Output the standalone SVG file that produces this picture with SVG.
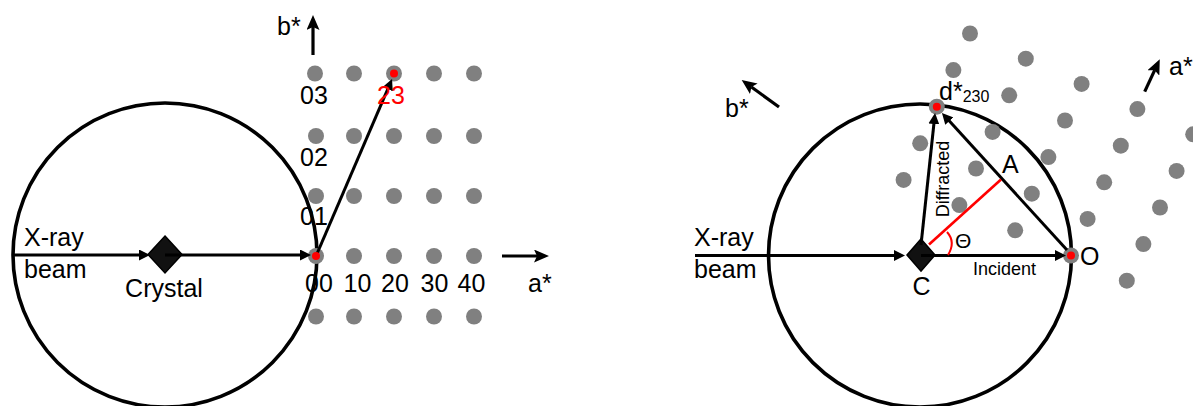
<svg xmlns="http://www.w3.org/2000/svg" width="1193" height="406" viewBox="0 0 1193 406">
<style>
text{font-family:"Liberation Sans",Arial,sans-serif;fill:#000}
.t{font-size:25px}
.s{font-size:18px}
.ring{fill:none;stroke:#000;stroke-width:3.6}
.ar{stroke:#000;stroke-width:3;fill:none;marker-end:url(#ah)}
.ax{stroke:#000;stroke-width:3.2;fill:none;marker-end:url(#bh)}
.dot{fill:#808080}
.rd{fill:#ff0000}
.xt{fill:#111;stroke:#000;stroke-width:1.5}
</style>
<defs>
<marker id="ah" viewBox="0 0 11 11" refX="2" refY="5.5" markerWidth="11" markerHeight="11" markerUnits="userSpaceOnUse" orient="auto"><path d="M0,0 L11,5.5 L0,11 z" fill="#000"/></marker>
<marker id="bh" viewBox="0 0 15 13" refX="3" refY="6.5" markerWidth="15" markerHeight="13" markerUnits="userSpaceOnUse" orient="auto"><path d="M0,0 L15,6.5 L0,13 L3,6.5 z" fill="#000"/></marker>
</defs>
<rect width="1193" height="406" fill="#fff"/>

<!-- LEFT PANEL -->
<g id="left-ewald-circle"><circle class="ring" cx="165" cy="255" r="152"/></g>
<g id="left-lattice">
<circle class="dot" cx="315" cy="73.5" r="8"/><circle class="dot" cx="354" cy="73.5" r="8"/><circle class="dot" cx="394" cy="73.5" r="8"/><circle class="dot" cx="434" cy="73.5" r="8"/><circle class="dot" cx="474" cy="73.5" r="8"/>
<circle class="dot" cx="316" cy="136" r="8"/><circle class="dot" cx="354" cy="136" r="8"/><circle class="dot" cx="394" cy="136" r="8"/><circle class="dot" cx="434" cy="136" r="8"/><circle class="dot" cx="474" cy="136" r="8"/>
<circle class="dot" cx="316" cy="196" r="8"/><circle class="dot" cx="354" cy="196" r="8"/><circle class="dot" cx="394" cy="196" r="8"/><circle class="dot" cx="434" cy="196" r="8"/><circle class="dot" cx="474" cy="196" r="8"/>
<circle class="dot" cx="316" cy="256" r="8"/><circle class="dot" cx="354" cy="256" r="8"/><circle class="dot" cx="394" cy="256" r="8"/><circle class="dot" cx="434" cy="256" r="8"/><circle class="dot" cx="474" cy="256" r="8"/>
<circle class="dot" cx="316" cy="316.5" r="8"/><circle class="dot" cx="354" cy="316.5" r="8"/><circle class="dot" cx="394" cy="316.5" r="8"/><circle class="dot" cx="434" cy="316.5" r="8"/><circle class="dot" cx="474" cy="316.5" r="8"/>
</g>
<g id="left-crystal"><polygon class="xt" points="165,236 182,254.5 165,273 148,254.5"/></g>
<g id="left-connectors">
<line class="ar" x1="12" y1="255" x2="141" y2="255"/>
<line class="ar" x1="165" y1="255" x2="302" y2="255"/>
<line class="ar" x1="316" y1="256" x2="388.5" y2="87.3"/>
<line class="ax" x1="313" y1="55" x2="313" y2="27"/>
<line class="ax" x1="502" y1="256" x2="537" y2="256"/>
</g>
<g id="left-red-points"><circle class="rd" cx="316" cy="256" r="4"/><circle class="rd" cx="394" cy="73.5" r="4"/></g>
<g id="left-labels">
<text class="t" x="277" y="35">b*</text>
<text class="t" x="300" y="104">03</text>
<text class="t" x="300" y="166">02</text>
<text class="t" x="300" y="225">01</text>
<text class="t" x="377" y="104" style="fill:#ff0000">23</text>
<text class="t" x="319" y="292" text-anchor="middle">00</text>
<text class="t" x="357.5" y="292" text-anchor="middle">10</text>
<text class="t" x="395" y="292" text-anchor="middle">20</text>
<text class="t" x="434.5" y="292" text-anchor="middle">30</text>
<text class="t" x="471.5" y="292" text-anchor="middle">40</text>
<text class="t" x="528" y="292">a*</text>
<text class="t" x="24" y="246">X-ray</text>
<text class="t" x="24" y="278">beam</text>
<text class="t" x="164" y="297" text-anchor="middle">Crystal</text>
</g>

<!-- RIGHT PANEL -->
<g id="right-ewald-circle"><circle class="ring" cx="920" cy="255.5" r="151.5"/></g>
<g id="right-lattice">
<circle class="dot" cx="1126.8" cy="280.7" r="8"/><circle class="dot" cx="1143.4" cy="244.1" r="8"/><circle class="dot" cx="1160" cy="207.5" r="8"/><circle class="dot" cx="1176.6" cy="170.9" r="8"/><circle class="dot" cx="1193.2" cy="134.3" r="8"/>
<circle class="dot" cx="1071" cy="255.5" r="8"/><circle class="dot" cx="1087.6" cy="218.9" r="8"/><circle class="dot" cx="1104.2" cy="182.3" r="8"/><circle class="dot" cx="1120.8" cy="145.7" r="8"/><circle class="dot" cx="1137.4" cy="109.1" r="8"/>
<circle class="dot" cx="1015.2" cy="230.3" r="8"/><circle class="dot" cx="1031.8" cy="193.7" r="8"/><circle class="dot" cx="1048.4" cy="157.1" r="8"/><circle class="dot" cx="1065" cy="120.5" r="8"/><circle class="dot" cx="1081.6" cy="83.9" r="8"/>
<circle class="dot" cx="959.4" cy="205.1" r="8"/><circle class="dot" cx="976" cy="168.5" r="8"/><circle class="dot" cx="992.6" cy="131.9" r="8"/><circle class="dot" cx="1009.2" cy="95.3" r="8"/><circle class="dot" cx="1025.8" cy="58.7" r="8"/>
<circle class="dot" cx="903.6" cy="179.9" r="8"/><circle class="dot" cx="920.2" cy="143.3" r="8"/><circle class="dot" cx="936.8" cy="106.7" r="8"/><circle class="dot" cx="953.4" cy="70.1" r="8"/><circle class="dot" cx="970" cy="33.5" r="8"/>
</g>
<g id="right-crystal"><polygon class="xt" points="921,239 935,255 921,271 907,255"/></g>
<g id="right-connectors">
<line class="ar" x1="695" y1="255.5" x2="896" y2="255.5"/>
<line class="ar" x1="921" y1="255.5" x2="1057" y2="255.5"/>
<line class="ar" x1="921" y1="245" x2="934.1" y2="122"/>
<line class="ar" x1="1067" y1="250" x2="948" y2="119.6"/>
<line x1="929" y1="244.5" x2="1001" y2="179.5" stroke="#ff0000" stroke-width="2.6"/>
<path d="M948,255 Q956,242 947,232" fill="none" stroke="#ff0000" stroke-width="2"/>
<line class="ax" x1="779" y1="107" x2="751.4" y2="87"/>
<line class="ax" x1="1144.7" y1="91.7" x2="1154.7" y2="70.2"/>
</g>
<g id="right-red-points"><circle class="rd" cx="1071" cy="255.5" r="4"/><circle class="rd" cx="936.8" cy="106.7" r="4"/></g>
<g id="right-labels">
<text class="t" x="694" y="246">X-ray</text>
<text class="t" x="694" y="278">beam</text>
<text class="t" x="725" y="117">b*</text>
<text class="t" x="1169" y="75">a*</text>
<text class="t" x="939" y="100">d*<tspan font-size="16" dy="2">230</tspan></text>
<text class="t" x="1002" y="173">A</text>
<text x="955" y="248" font-size="21">Θ</text>
<text class="s" x="973" y="275">Incident</text>
<text class="t" x="921.5" y="295" text-anchor="middle">C</text>
<text class="t" x="1080" y="265">O</text>
<text class="s" transform="translate(949,179) rotate(-90)" text-anchor="middle">Diffracted</text>
</g>
</svg>
